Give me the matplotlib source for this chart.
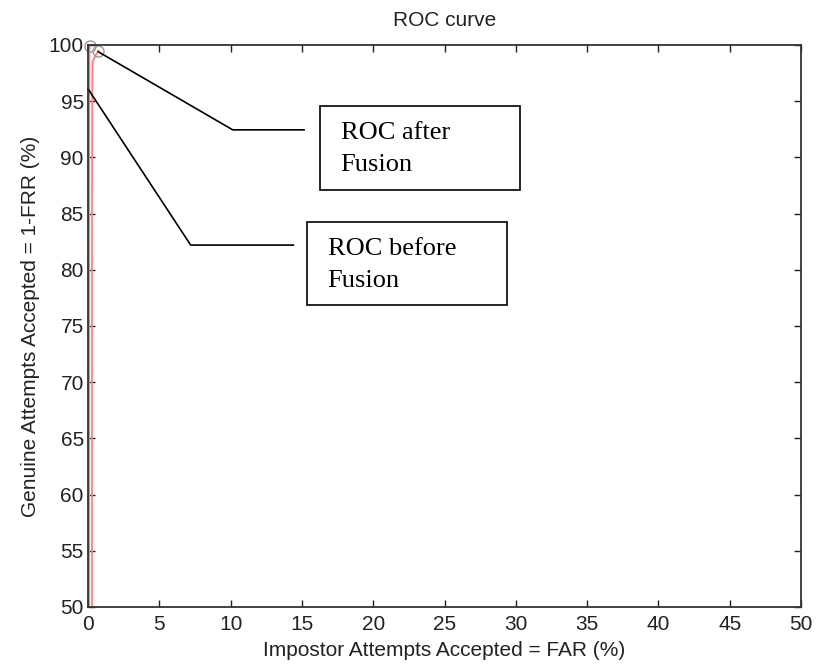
import matplotlib.pyplot as plt
from matplotlib.patches import Rectangle

# ROC curves (FAR %, GAR %)
far_before = [0.08, 0.08, 0.09, 0.1, 0.12]
gar_before = [50, 80, 95, 99.5, 99.9]
far_after = [0.28, 0.28, 0.3, 0.32, 0.5, 0.72]
gar_after = [50, 85, 96, 98.5, 99.0, 99.5]

# operating points marked with circles
op_far = [0.12, 0.72]
op_gar = [99.9, 99.5]

# callout leader lines (data coords)
lead_after_x = [0.72, 10.15, 15.15]
lead_after_y = [99.4, 92.45, 92.45]
lead_before_x = [0.0, 7.2, 14.4]
lead_before_y = [96.1, 82.2, 82.2]

# callout boxes: (x0, y0, width, height) and text
box_after = (16.27, 87.1, 14.03, 7.47)
box_before = (15.36, 76.87, 14.04, 7.38)
label_after = "ROC after\nFusion"
label_before = "ROC before\nFusion"

xticks = list(range(0, 51, 5))
yticks = list(range(50, 101, 5))

plt.rcParams['font.family'] = ['Liberation Sans', 'DejaVu Sans']
fig = plt.figure(figsize=(8.16, 6.71), dpi=100)
ax = fig.add_axes([88 / 816, 1 - 607 / 671, 713 / 816, 562 / 671])

ax.plot(far_before, gar_before, color='#ff8080', lw=1.3)
ax.plot(far_after, gar_after, color='#ff8080', lw=1.3)
ax.plot(op_far, op_gar, 'o', mfc='none', mec='#9a9a9a', ms=8, mew=1.0, clip_on=False)

ax.plot(lead_after_x, lead_after_y, color='black', lw=1.2, clip_on=False)
ax.plot(lead_before_x, lead_before_y, color='black', lw=1.2, clip_on=False)

for (x0, y0, w, h), txt in [(box_after, label_after), (box_before, label_before)]:
    ax.add_patch(Rectangle((x0, y0), w, h, fill=False, ec='black', lw=1.2))
    ax.text(x0 + 1.45, y0 + h / 2 - 0.1, txt, family='Liberation Serif', fontsize=19,
            ha='left', va='center', linespacing=1.6)

ax.set_xlim(0, 50)
ax.set_ylim(50, 100)
ax.set_xticks(xticks)
ax.set_yticks(yticks)
ax.tick_params(direction='in', top=True, right=True, length=5, width=1.0,
               labelsize=15, colors='#222222')
ax.tick_params(axis='x', pad=6)
ax.tick_params(axis='y', pad=3)
for s in ax.spines.values():
    s.set_linewidth(1.3)
    s.set_color('#333333')

ax.set_title('ROC curve', fontsize=15, pad=14, color='#222222')
ax.set_xlabel('Impostor Attempts Accepted = FAR (%)', fontsize=15, labelpad=5, color='#222222')
ax.set_ylabel('Genuine Attempts Accepted = 1-FRR (%)', fontsize=15, labelpad=6, color='#222222')

fig.savefig('out.png', dpi=100)
